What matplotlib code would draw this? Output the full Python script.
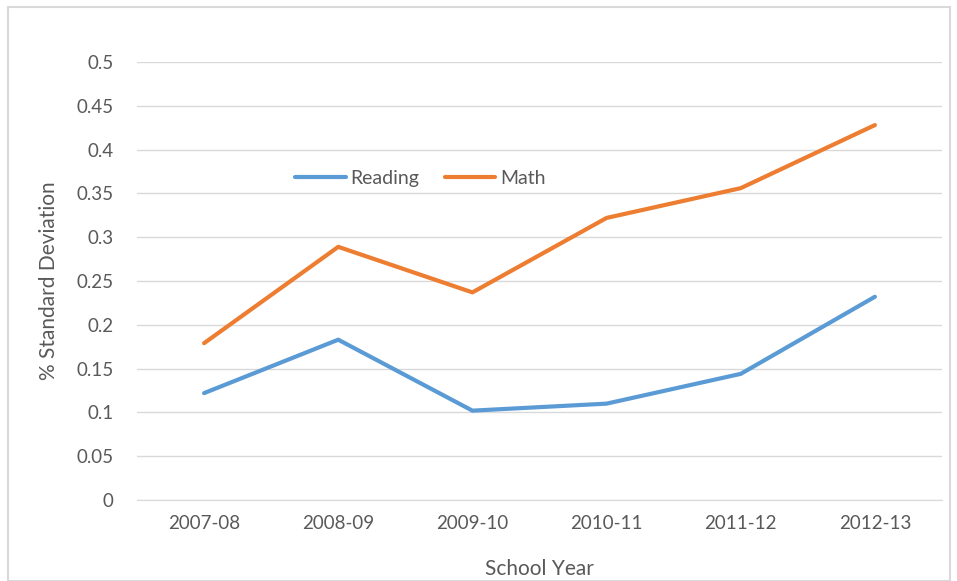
import matplotlib.pyplot as plt
from matplotlib.patches import Rectangle

years = ["2007-08", "2008-09", "2009-10", "2010-11", "2011-12", "2012-13"]
reading = [0.122, 0.183, 0.102, 0.110, 0.144, 0.232]
math_sd = [0.179, 0.289, 0.237, 0.322, 0.356, 0.428]
yticks = [0, 0.05, 0.1, 0.15, 0.2, 0.25, 0.3, 0.35, 0.4, 0.45, 0.5]
ytick_labels = ["0", "0.05", "0.1", "0.15", "0.2", "0.25", "0.3", "0.35", "0.4", "0.45", "0.5"]

plt.rcParams['font.family'] = ['Lato', 'DejaVu Sans']
txt = "#595959"
grid = "#D9D9D9"

fig = plt.figure(figsize=(9.57, 5.81), dpi=100)
fig.patches.append(Rectangle((8 / 957, 0.0), 942 / 957, 1 - 7 / 581, transform=fig.transFigure,
                             fill=False, edgecolor=grid, linewidth=1.5))
ax = fig.add_axes([137 / 957, 1 - 500 / 581, 805 / 957, 438 / 581])

x = range(len(years))
ax.plot(x, reading, color="#5B9BD5", lw=3, solid_capstyle="round", label="Reading")
ax.plot(x, math_sd, color="#ED7D31", lw=3, solid_capstyle="round", label="Math")

ax.set_xlim(-0.5, len(years) - 0.5)
ax.set_ylim(0, 0.5)
ax.set_yticks(yticks)
ax.set_yticklabels(ytick_labels)
ax.set_xticks(list(x))
ax.set_xticklabels(years)
ax.yaxis.grid(True, color=grid, lw=1)
ax.set_axisbelow(True)
for s in ["top", "right", "left"]:
    ax.spines[s].set_visible(False)
ax.spines["bottom"].set_color(grid)
ax.tick_params(length=0, colors=txt, labelsize=13.5)
ax.tick_params(axis="y", pad=17)
ax.tick_params(axis="x", pad=11)

ax.set_xlabel("School Year", color=txt, fontsize=15, labelpad=19)
ax.set_ylabel("% Standard Deviation", color=txt, fontsize=15, labelpad=12)

leg = ax.legend(loc="center", bbox_to_anchor=(0.352, 0.735), ncol=2, frameon=False,
                fontsize=14, handlelength=2.6, columnspacing=1.3, handletextpad=0.25)
for t in leg.get_texts():
    t.set_color(txt)

fig.savefig("out.png", dpi=100)
